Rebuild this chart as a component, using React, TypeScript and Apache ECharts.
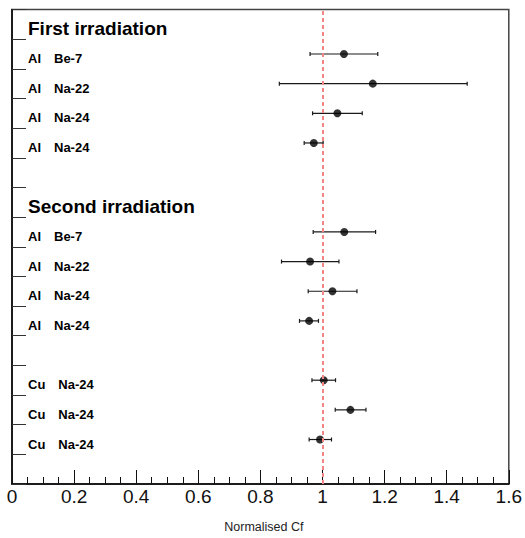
import React, { useEffect, useRef } from "react";
import * as echarts from "echarts";

// Rows from bottom (index 0) to top (index 15)
const rowTargets = ["", "Cu", "Cu", "Cu", "", "Al", "Al", "Al", "Al", "", "", "Al", "Al", "Al", "Al", ""];
const rowNuclides = ["", "Na-24", "Na-24", "Na-24", "", "Na-24", "Na-24", "Na-22", "Be-7", "", "", "Na-24", "Na-24", "Na-22", "Be-7", ""];
const rowHeaders = ["", "", "", "", "", "", "", "", "", "Second irradiation", "", "", "", "", "", "First irradiation"];

// Measurements
const pointRows = [14, 13, 12, 11, 8, 7, 6, 5, 3, 2, 1];
const cfValues = [1.069, 1.162, 1.048, 0.972, 1.07, 0.96, 1.032, 0.957, 1.004, 1.09, 0.992];
const cfLow = [0.96, 0.861, 0.968, 0.941, 0.97, 0.868, 0.954, 0.926, 0.966, 1.041, 0.957];
const cfHigh = [1.178, 1.466, 1.128, 1.002, 1.171, 1.053, 1.111, 0.987, 1.042, 1.14, 1.029];

const referenceValue = 1;
const xTicks = [0, 0.2, 0.4, 0.6, 0.8, 1, 1.2, 1.4, 1.6];

const FONT = "Liberation Sans, Arial, Helvetica, sans-serif";

export default function App() {
  const ref = useRef<HTMLDivElement>(null);

  useEffect(() => {
    if (!ref.current) return;
    const chart = echarts.init(ref.current, undefined, { renderer: "svg" });
    const categories = rowTargets.map((_, i) => String(i));

    const option: any = {
      animation: false,
      backgroundColor: "#ffffff",
      grid: {
        show: true,
        left: 12,
        right: 14,
        top: 9.5,
        bottom: 44,
        borderColor: "#444",
        borderWidth: 1.5,
        containLabel: false,
      },
      xAxis: {
        type: "value",
        min: xTicks[0],
        max: xTicks[xTicks.length - 1],
        interval: 0.2,
        name: "Normalised Cf",
        nameLocation: "middle",
        nameGap: 36,
        nameTextStyle: { fontSize: 12.5, color: "#222", fontFamily: FONT, padding: [0, 0, 0, 7] },
        axisLine: { show: true, lineStyle: { color: "#000", width: 1.5 } },
        axisTick: { show: true, inside: true, length: 14, lineStyle: { color: "#111", width: 1 } },
        minorTick: { show: true, splitNumber: 4, length: 7, lineStyle: { color: "#111", width: 1 } },
        splitLine: { show: false },
        minorSplitLine: { show: false },
        axisLabel: {
          margin: 3,
          fontSize: 19,
          color: "#111",
          fontFamily: FONT,
          formatter: (v: number) => String(+v.toFixed(1)),
        },
      },
      yAxis: {
        type: "category",
        data: categories,
        boundaryGap: true,
        axisLine: { show: true, lineStyle: { color: "#000", width: 1.5 } },
        axisTick: { show: true, inside: true, length: 14, lineStyle: { color: "#333", width: 1 } },
        splitLine: { show: false },
        axisLabel: {
          inside: true,
          interval: 0,
          margin: 16,
          align: "left",
          padding: [9, 0, 0, 0],
          formatter: (_v: string, idx: number) => {
            if (rowHeaders[idx]) return `{h|${rowHeaders[idx]}}`;
            if (rowTargets[idx]) return `{el|${rowTargets[idx]}}{nu|${rowNuclides[idx]}}`;
            return "";
          },
          rich: {
            h: { fontSize: 19, fontWeight: "bold", color: "#000", fontFamily: FONT },
            el: { fontSize: 13, fontWeight: "bold", color: "#000", fontFamily: FONT, padding: [0, 13, 0, 0] },
            nu: { fontSize: 13, fontWeight: "bold", color: "#000", fontFamily: FONT },
          },
        },
      },
      series: [
        {
          type: "custom",
          data: pointRows.map((r, i) => [cfLow[i], cfHigh[i], r]),
          encode: { x: [0, 1], y: 2 },
          renderItem: (_params: any, api: any) => {
            const lo = api.coord([api.value(0), api.value(2)]);
            const hi = api.coord([api.value(1), api.value(2)]);
            const h = 2;
            const style = { stroke: "#1a1a1a", lineWidth: 1.2 };
            return {
              type: "group",
              children: [
                { type: "line", shape: { x1: lo[0], y1: lo[1], x2: hi[0], y2: hi[1] }, style },
                { type: "line", shape: { x1: lo[0], y1: lo[1] - h, x2: lo[0], y2: lo[1] + h }, style },
                { type: "line", shape: { x1: hi[0], y1: hi[1] - h, x2: hi[0], y2: hi[1] + h }, style },
              ],
            };
          },
          z: 2,
        },
        {
          type: "scatter",
          data: pointRows.map((r, i) => [cfValues[i], r]),
          symbol: "circle",
          symbolSize: 8,
          itemStyle: { color: "#000" },
          z: 3,
          markLine: {
            silent: true,
            symbol: "none",
            label: { show: false },
            lineStyle: { color: "#f28585", type: [4, 3], width: 2 },
            data: [{ xAxis: referenceValue }],
            z: 4,
          },
        },
      ],
    };

    chart.setOption(option);
    return () => chart.dispose();
  }, []);

  return (
    <div
      ref={ref}
      style={{ position: "fixed", left: 0, top: 0, width: 525, height: 538, background: "#fff" }}
    />
  );
}
